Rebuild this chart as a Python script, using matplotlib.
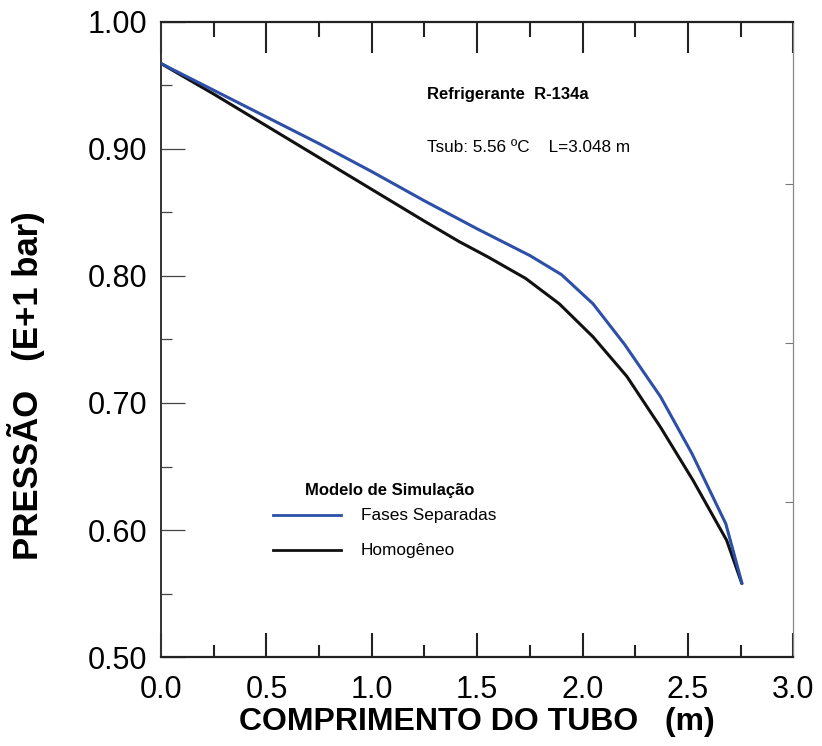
import numpy as np
import matplotlib
matplotlib.use("Agg")
import matplotlib.pyplot as plt
from matplotlib.ticker import MultipleLocator

plt.rcParams["font.family"] = ["Liberation Sans", "DejaVu Sans"]

# comprimento do tubo (m) e pressao (E+1 bar)
x_sep = [0.0, 0.25, 0.5, 0.75, 1.0, 1.25, 1.5, 1.75, 1.9, 2.05, 2.2, 2.37, 2.52, 2.68, 2.757]
p_sep = [0.967, 0.946, 0.925, 0.904, 0.882, 0.859, 0.837, 0.816, 0.801, 0.778, 0.746, 0.705, 0.660, 0.605, 0.558]

x_hom = [0.0, 0.25, 0.5, 0.75, 1.0, 1.25, 1.414, 1.55, 1.73, 1.89, 2.05, 2.21, 2.37, 2.525, 2.684, 2.756]
p_hom = [0.967, 0.943, 0.918, 0.893, 0.868, 0.843, 0.827, 0.815, 0.798, 0.778, 0.752, 0.721, 0.681, 0.639, 0.592, 0.558]

labels = ["Fases Separadas", "Homogêneo"]
colors = ["#2d4fa8", "#111111"]

fig = plt.figure(figsize=(8.22, 7.46), dpi=100)
ax = fig.add_axes([0.196, 0.119, 0.769, 0.852])

ax.plot(x_sep, p_sep, color=colors[0], lw=2.2, solid_capstyle="round", zorder=3)
ax.plot(x_hom, p_hom, color=colors[1], lw=2.2, solid_capstyle="round", zorder=2)

ax.set_xlim(0, 3.0)
ax.set_ylim(0.5, 1.0)
ax.xaxis.set_major_locator(MultipleLocator(0.5))
ax.xaxis.set_minor_locator(MultipleLocator(0.25))
ax.yaxis.set_major_locator(MultipleLocator(0.1))
ax.yaxis.set_minor_locator(MultipleLocator(0.05))
ax.xaxis.set_major_formatter(lambda v, p: f"{v:.1f}")
ax.yaxis.set_major_formatter(lambda v, p: f"{v:.2f}")

ax.tick_params(axis="x", which="major", direction="in", length=17, width=1.5,
               top=False, labelsize=22, pad=13, color="#222222")
ax.tick_params(axis="x", which="minor", direction="in", length=9, width=1.5,
               top=False, color="#222222")
ax.tick_params(axis="y", which="major", direction="in", length=17, width=0.9,
               right=False, labelsize=22, pad=10, color="#444444")
ax.tick_params(axis="y", which="minor", direction="in", length=8, width=0.9,
               right=False, color="#444444")

for s in ["top", "bottom"]:
    ax.spines[s].set_linewidth(1.6)
    ax.spines[s].set_color("#222222")
ax.spines["left"].set_linewidth(1.4)
ax.spines["left"].set_color("#333333")
ax.spines["right"].set_linewidth(0.9)
ax.spines["right"].set_color("#888888")

# longer ticks along the top edge
top = ax.secondary_xaxis("top")
top.xaxis.set_major_locator(MultipleLocator(0.5))
top.xaxis.set_minor_locator(MultipleLocator(0.25))
top.tick_params(axis="x", which="major", direction="in", length=22, width=1.5,
                color="#222222", labeltop=False)
top.tick_params(axis="x", which="minor", direction="in", length=11, width=1.5,
                color="#222222")
top.spines["top"].set_visible(False)

# short ticks on the right side
ax2 = ax.twinx()
ax2.set_ylim(0.5, 1.0)
ax2.set_yticks([0.622, 0.747, 0.872])
ax2.tick_params(axis="y", direction="in", length=6, width=0.8, color="#777777",
                labelright=False)
for s in ["right", "top", "left", "bottom"]:
    ax2.spines[s].set_visible(False)

ax.set_xlabel("COMPRIMENTO DO TUBO   (m)", fontsize=23, fontweight="bold")
ax.xaxis.set_label_coords(0.5, -0.079)
ax.set_ylabel("PRESSÃO   (E+1 bar)", fontsize=25, fontweight="bold")
ax.yaxis.set_label_coords(-0.184, 0.428)

ax.text(1.262, 0.9425, "Refrigerante  R-134a", fontsize=12, fontweight="bold",
        ha="left", va="center")
ax.text(1.262, 0.901, "Tsub: 5.56 ºC    L=3.048 m", fontsize=12.3,
        ha="left", va="center")

# legend drawn by hand
ax.text(0.685, 0.6315, "Modelo de Simulação", fontsize=12, fontweight="bold",
        ha="left", va="center")
for i, (lab, c) in enumerate(zip(labels, colors)):
    yy = 0.6115 - i * 0.0275
    ax.plot([0.53, 0.855], [yy, yy], color=c, lw=2.0)
    ax.text(0.948, yy, lab, fontsize=12.4, ha="left", va="center")

fig.savefig("out.png", dpi=100)
